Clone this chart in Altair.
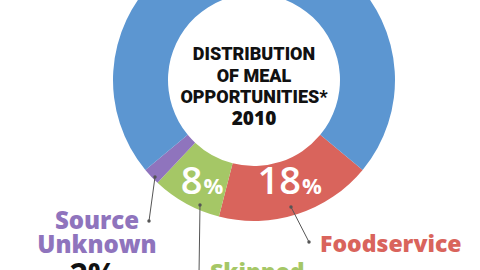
import math
import altair as alt
import pandas as pd

# ---- data ----
categories = ["Foodservice", "Skipped", "Source Unknown", "In-Home"]
shares = [18, 8, 2, 72]
colors = ["#d9645c", "#a5c766", "#8f74bd", "#5c96d1"]
title_lines = ["DISTRIBUTION", "OF MEAL", "OPPORTUNITIES*"]
title_year = "2010"

df = pd.DataFrame({"category": categories, "share": shares, "order": list(range(len(categories)))})

CX, CY = 254, 80
start = math.radians(129.6)
theta_scale = alt.Scale(domain=[0, 100], range=[start, start + 2 * math.pi])

base = alt.Chart(df)

arc = base.mark_arc(innerRadius=86, outerRadius=141).encode(
    theta=alt.Theta("share:Q", stack=True, scale=theta_scale),
    color=alt.Color("category:N", scale=alt.Scale(domain=categories, range=colors), legend=None),
    order=alt.Order("order:Q"),
    x=alt.value(CX),
    y=alt.value(CY),
)

mid_base = base.transform_window(
    cum="sum(share)", sort=[{"field": "order"}], frame=[None, 0]
).transform_calculate(
    mid="datum.cum - datum.share / 2", numtxt="datum.share + ''"
)

def pct_label(cat, dxn, dy):
    b = mid_base.transform_filter(alt.datum.category == cat)
    enc = dict(
        theta=alt.Theta("mid:Q", stack=None, scale=theta_scale),
        x=alt.value(CX),
        y=alt.value(CY),
    )
    num = b.mark_text(radius=113, align="right", baseline="alphabetic", dx=dxn, dy=dy,
                      fontSize=38, font="Open Sans", fontWeight=600, color="white").encode(
        text="numtxt:N", **enc)
    pct = b.mark_text(radius=113, align="left", baseline="alphabetic", dx=dxn + 1, dy=dy,
                      fontSize=22, font="Open Sans", fontWeight=700, color="white").encode(
        text=alt.value("%"), **enc)
    return num + pct

labels_in = pct_label("Foodservice", 12, 7) + pct_label("Skipped", 3, 15)

one = alt.Chart(pd.DataFrame({"a": [0]}))

def txt(s, x, y, size, color, align="center", font="Open Sans", weight=700):
    return one.mark_text(align=align, baseline="alphabetic", fontSize=size, font=font,
                         fontWeight=weight, color=color).encode(
        x=alt.value(x), y=alt.value(y), text=alt.value(s))

title = (txt(title_lines[0], CX, 60, 18, "#111111", font="Roboto", weight=900)
         + txt(title_lines[1], CX, 82, 18, "#111111", font="Roboto", weight=900)
         + txt(title_lines[2], CX, 103, 18, "#111111", font="Roboto", weight=900)
         + txt(title_year, CX, 125, 19, "#111111", font="Open Sans", weight=800))

outer = (txt("Source", 97, 229, 24, colors[2], weight=800)
         + txt("Unknown", 97, 253, 24, colors[2], weight=800)
         + txt("2%", 93, 286, 32, "#111111", weight=700)
         + txt("Foodservice", 320, 252, 23, colors[0], align="left", weight=800)
         + txt("Skipped", 210, 280, 23, colors[1], align="left", weight=800))

def leader(x1, y1, x2, y2, dot2=True):
    r = one.mark_rule(color="#555555", strokeWidth=1).encode(
        x=alt.value(x1), y=alt.value(y1), x2=alt.value(x2), y2=alt.value(y2))
    d1 = one.mark_point(filled=True, size=12, color="#555555", opacity=1).encode(
        x=alt.value(x1), y=alt.value(y1))
    ch = r + d1
    if dot2:
        ch = ch + one.mark_point(filled=True, size=12, color="#555555", opacity=1).encode(
            x=alt.value(x2), y=alt.value(y2))
    return ch

leaders = (leader(291, 207, 309, 242)
           + leader(200, 205, 199, 275, dot2=False)
           + leader(155, 177, 149, 221))

chart = alt.layer(arc, labels_in, leaders, title, outer).properties(
    width=480, height=270, padding=0, autosize=alt.AutoSizeParams(type="none"),
    background="white",
).configure_view(strokeWidth=0)

chart.save("out.html", embed_options={"renderer": "svg", "actions": False})
